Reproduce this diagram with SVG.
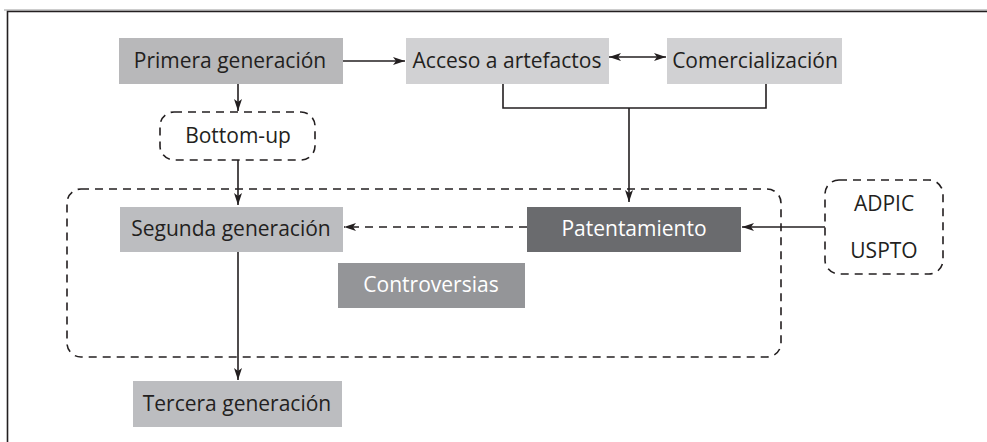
<svg xmlns="http://www.w3.org/2000/svg" width="987" height="442" viewBox="0 0 987 442">
<defs>
<style>
.t{font-family:"Open Sans","Noto Sans",sans-serif;font-size:21px;fill:#231f20;text-anchor:middle;dominant-baseline:central}
.w{fill:#ffffff}
.ln{stroke:#231f20;stroke-width:1.6;fill:none}
.dash{stroke:#231f20;stroke-width:1.6;fill:none;stroke-dasharray:8 6}
</style>
<marker id="ah" viewBox="0 0 12 8" refX="12" refY="4" markerWidth="12" markerHeight="8" markerUnits="userSpaceOnUse" orient="auto-start-reverse">
<path d="M0,0 L12,4 L0,8 L3,4 Z" fill="#231f20"/>
</marker>
</defs>
<rect width="987" height="442" fill="#ffffff"/>
<g id="frame">
<line x1="4" y1="10" x2="987" y2="10" stroke="#9a9a9a" stroke-width="1"/>
<path d="M7.5,442 V11.5 H987" stroke="#231f20" stroke-width="1.6" fill="none"/>
</g>
<g id="connectors">
<line class="ln" x1="343" y1="61" x2="405" y2="61" marker-end="url(#ah)"/>
<line class="ln" x1="609" y1="57" x2="666" y2="57" marker-start="url(#ah)" marker-end="url(#ah)"/>
<path class="ln" d="M503,84 V108 H766 V84"/>
<line class="ln" x1="629" y1="108" x2="629" y2="202" marker-end="url(#ah)"/>
<line class="ln" x1="238" y1="84" x2="238" y2="111" marker-end="url(#ah)"/>
<line class="ln" x1="238" y1="160" x2="238" y2="205" marker-end="url(#ah)"/>
<line class="dash" x1="527" y1="227" x2="344" y2="227" marker-end="url(#ah)"/>
<line class="ln" x1="825" y1="227" x2="742" y2="227" marker-end="url(#ah)"/>
<line class="ln" x1="238" y1="252" x2="238" y2="380" marker-end="url(#ah)"/>
</g>
<g id="cluster">
<rect class="dash" x="67" y="189" width="714" height="168" rx="14"/>
</g>
<g id="primera">
<rect x="119" y="38" width="224" height="46" fill="#b8b8ba"/>
<text class="t" x="230" y="60">Primera generación</text>
</g>
<g id="acceso">
<rect x="406" y="38" width="203" height="46" fill="#d1d1d3"/>
<text class="t" x="507" y="60">Acceso a artefactos</text>
</g>
<g id="comercializacion">
<rect x="667" y="38" width="175" height="46" fill="#d1d1d3"/>
<text class="t" x="755" y="60">Comercialización</text>
</g>
<g id="bottomup">
<rect class="dash" x="160" y="112" width="155" height="48" rx="14"/>
<text class="t" x="238" y="135">Bottom-up</text>
</g>
<g id="segunda">
<rect x="120" y="207" width="223" height="45" fill="#bcbdc0"/>
<text class="t" x="231" y="228">Segunda generación</text>
</g>
<g id="patentamiento">
<rect x="527" y="207" width="214" height="45" fill="#6a6b6e"/>
<text class="t w" x="634" y="228">Patentamiento</text>
</g>
<g id="controversias">
<rect x="338" y="263" width="187" height="45" fill="#949598"/>
<text class="t w" x="431" y="284">Controversias</text>
</g>
<g id="adpic">
<rect class="dash" x="825" y="180" width="118" height="94" rx="14"/>
<text class="t" x="884" y="203">ADPIC</text>
<text class="t" x="884" y="250">USPTO</text>
</g>
<g id="tercera">
<rect x="133" y="381" width="209" height="46" fill="#bcbdc0"/>
<text class="t" x="237" y="403">Tercera generación</text>
</g>
</svg>
